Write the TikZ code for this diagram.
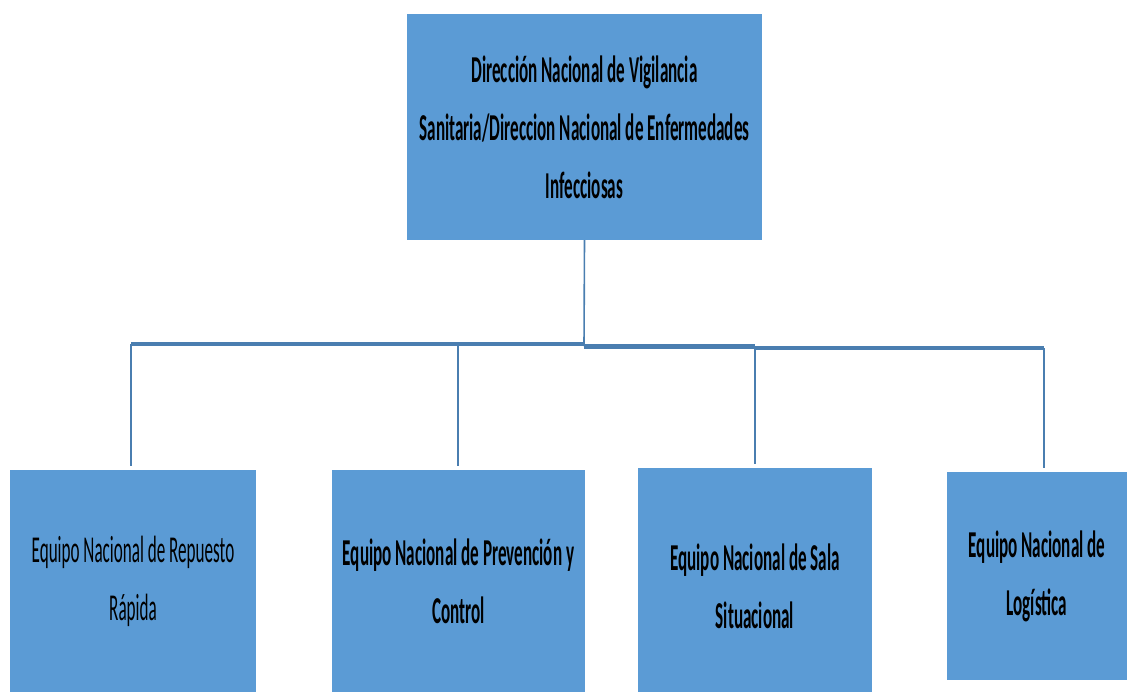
\documentclass[tikz,border=0pt]{standalone}
\usepackage{fontspec}
\newfontfamily\orgfont[FakeStretch=0.45]{Carlito}
\definecolor{boxblue}{HTML}{5B9BD5}
\definecolor{lineblue}{HTML}{4A7EB0}
\begin{document}
\begin{tikzpicture}[x=1pt,y=-1pt,
    unit/.style={fill=boxblue,inner sep=0pt,align=center,
      font=\orgfont\bfseries\fontsize{38}{58}\selectfont},
    conn/.style={lineblue,line width=1.6pt},
    bus/.style={lineblue,line width=3.5pt}]
  \useasboundingbox (0,0) rectangle (1127,694);
  \draw
    (584.5,127) node[unit,minimum width=355,minimum height=226] (top)
      {Dirección Nacional de Vigilancia\\Sanitaria/Direccion Nacional de Enfermedades\\Infecciosas}
    (133,581) node[unit,minimum width=246,minimum height=222,font=\orgfont\fontsize{38}{58}\selectfont] (rr)
      {Equipo Nacional de Repuesto\\Rápida}
    (458.5,581) node[unit,minimum width=253,minimum height=222] (pc)
      {Equipo Nacional de Prevención y\\Control}
    (755,580) node[unit,minimum width=234,minimum height=224] (sala)
      {\\[-18pt]Equipo Nacional de Sala\\Situacional}
    (1037,576) node[unit,minimum width=180,minimum height=208] (logi)
      {Equipo Nacional de\\Logística};
  \coordinate (hub) at (584,346);
  \coordinate (b1) at (131,344);
  \coordinate (b2) at (458,344);
  \coordinate (b3) at (755,348);
  \coordinate (b4) at (1044,348);
  \begin{scope}[conn]
    \draw (top.south) -- (hub);
    \draw[shorten >=4pt] (b1) -- (b1 |- rr.north);
    \draw[shorten >=4pt] (b2) -- (b2 |- pc.north);
    \draw[shorten >=4pt] (b3) -- (b3 |- sala.north);
    \draw[shorten >=4pt] (b4) -- (b4 |- logi.north);
  \end{scope}
  \begin{scope}[bus]
    \draw (b1) -- (hub |- b1);
    \draw[line width=5pt] (hub) -- (b3 |- hub);
    \draw (b3) -- (b4);
  \end{scope}
\end{tikzpicture}
\end{document}
